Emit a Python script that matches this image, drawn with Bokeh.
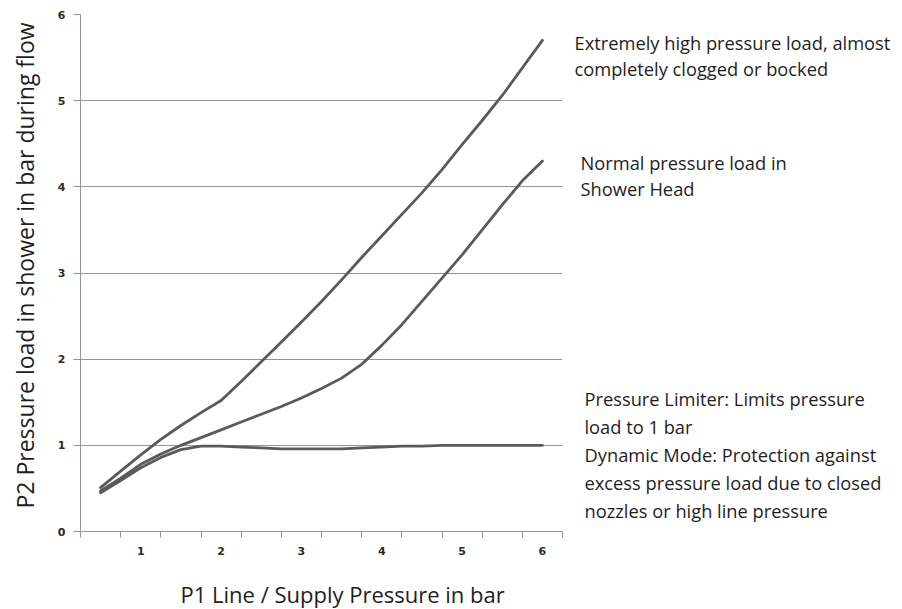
import math
from bokeh.plotting import figure
from bokeh.layouts import row, column
from bokeh.models import FixedTicker, Range1d, ColumnDataSource
from bokeh.core.properties import value
from bokeh.embed import file_html
from bokeh.resources import INLINE

# ---- data ----
supply_bar = [0.5, 0.75, 1.0, 1.25, 1.5, 1.75, 2.0, 2.25, 2.5, 2.75, 3.0, 3.25,
              3.5, 3.75, 4.0, 4.25, 4.5, 4.75, 5.0, 5.25, 5.5, 5.75, 6.0]
extreme_load = [0.51, 0.70, 0.89, 1.07, 1.23, 1.38, 1.52, 1.74, 1.97, 2.20, 2.43, 2.67,
                2.92, 3.18, 3.43, 3.68, 3.93, 4.20, 4.49, 4.77, 5.06, 5.38, 5.70]
normal_load = [0.47, 0.62, 0.78, 0.90, 1.00, 1.09, 1.18, 1.27, 1.36, 1.45, 1.55, 1.66,
               1.78, 1.94, 2.16, 2.40, 2.67, 2.94, 3.21, 3.50, 3.79, 4.07, 4.30]
limiter_load = [0.45, 0.59, 0.74, 0.86, 0.95, 0.99, 0.99, 0.98, 0.97, 0.96, 0.96, 0.96,
                0.96, 0.97, 0.98, 0.99, 0.99, 1.00, 1.00, 1.00, 1.00, 1.00, 1.00]

x_tick_values = [1, 2, 3, 4, 5, 6]
y_tick_values = [0, 1, 2, 3, 4, 5, 6]

x_title = "P1 Line / Supply Pressure in bar"
y_title = "P2 Pressure load in shower in bar during flow"

notes_extreme = ["Extremely high pressure load, almost", "completely clogged or bocked"]
notes_normal = ["Normal pressure load in", "Shower Head"]
notes_limiter = ["Pressure Limiter: Limits pressure", "load to 1 bar",
                 "Dynamic Mode: Protection against",
                 "excess pressure load due to closed",
                 "nozzles or high line pressure"]

GRID = "#939393"
LINE = "#5a5a5a"
TXT = "#1e1e1e"
FONT = "Open Sans"

# page geometry
W, H = 902, 609
LEFT_W = 48          # strip holding the y title
MAIN_W = 522         # main chart canvas (frame 80..562 on the page)
ROW_H = 575          # height of the top row
FRAME_TOP, FRAME_BOTTOM = 14, 531
BASE_SHIFT = 0.36    # renderer puts alphabetic baselines this many em lower

y_range = Range1d(0, 6)


def py_to_y(py):
    return (FRAME_BOTTOM - py) * 6.0 / (FRAME_BOTTOM - FRAME_TOP)


def blank(width, height, x_range, y_rng, top=0, bottom=0):
    f = figure(width=width, height=height, output_backend="svg", toolbar_location=None,
               x_range=x_range, y_range=y_rng, x_axis_location=None, y_axis_location=None,
               min_border_left=0, min_border_right=0, min_border_top=top,
               min_border_bottom=bottom)
    f.outline_line_color = None
    f.background_fill_color = "white"
    f.border_fill_color = "white"
    f.grid.visible = False
    return f


# ---- main chart ----
p = figure(width=MAIN_W, height=ROW_H, output_backend="svg", toolbar_location=None,
           x_range=Range1d(0.25, 6.25), y_range=y_range,
           min_border_left=80 - LEFT_W, min_border_right=LEFT_W + MAIN_W - 562,
           min_border_top=FRAME_TOP, min_border_bottom=ROW_H - FRAME_BOTTOM)
p.outline_line_color = None
p.background_fill_color = "white"
p.border_fill_color = "white"

p.xgrid.visible = False
p.ygrid.ticker = FixedTicker(ticks=y_tick_values)
p.ygrid.grid_line_color = GRID
p.ygrid.grid_line_width = 1

p.xaxis.ticker = FixedTicker(ticks=x_tick_values,
                             minor_ticks=[0.25 + 0.5 * i for i in range(13)])
p.xaxis.major_tick_line_color = None
p.xaxis.minor_tick_in = 0
p.xaxis.minor_tick_out = 6
p.xaxis.minor_tick_line_color = GRID
p.xaxis.axis_line_color = GRID
p.xaxis.major_label_standoff = 9
p.xaxis.major_label_text_font = "DejaVu Sans"
p.xaxis.major_label_text_font_style = "bold"
p.xaxis.major_label_text_font_size = "11px"
p.xaxis.major_label_text_color = "#2a2a2a"

p.yaxis.ticker = FixedTicker(ticks=y_tick_values)
p.yaxis.minor_tick_line_color = None
p.yaxis.major_tick_in = 0
p.yaxis.major_tick_out = 7
p.yaxis.major_tick_line_color = GRID
p.yaxis.axis_line_color = GRID
p.yaxis.major_label_standoff = 8
p.yaxis.major_label_text_font = "DejaVu Sans"
p.yaxis.major_label_text_font_style = "bold"
p.yaxis.major_label_text_font_size = "11px"
p.yaxis.major_label_text_color = "#2a2a2a"

for series in (limiter_load, normal_load, extreme_load):
    p.line(supply_bar, series, line_width=2.8, line_color=LINE,
           line_join="round", line_cap="round")

# ---- y title strip (x in page pixels, y shares the chart's scale) ----
pl = blank(LEFT_W, ROW_H, Range1d(0, LEFT_W), y_range, FRAME_TOP, ROW_H - FRAME_BOTTOM)
YT_SIZE = 23
pl.text(x=[33 - BASE_SHIFT * YT_SIZE], y=[py_to_y(508)], text=[y_title],
        angle=math.pi / 2, text_font=value(FONT), text_font_size=f"{YT_SIZE}px",
        text_color=TXT, text_align="left", text_baseline="alphabetic")

# ---- annotation strip on the right ----
RIGHT_X0 = LEFT_W + MAIN_W
pr = blank(W - RIGHT_X0, ROW_H, Range1d(RIGHT_X0, W), y_range, FRAME_TOP,
           ROW_H - FRAME_BOTTOM)
NOTE_SIZE = 18.3
note_x, note_y, note_t = [], [], []
for lines, px, base, step in ((notes_extreme, 574, 48.5, 26.5),
                              (notes_normal, 580, 168.5, 26.0),
                              (notes_limiter, 584, 405.0, 27.8)):
    for i, t in enumerate(lines):
        note_x.append(px)
        note_y.append(py_to_y(base + i * step - BASE_SHIFT * NOTE_SIZE))
        note_t.append(t)
pr.text(x="x", y="y", text="t", source=ColumnDataSource(dict(x=note_x, y=note_y, t=note_t)),
        text_font=value(FONT), text_font_size=f"{NOTE_SIZE}px", text_color=TXT,
        text_align="left", text_baseline="alphabetic")

# ---- x title strip at the bottom ----
XT_SIZE = 22
pb = blank(W, H - ROW_H, Range1d(0, W), Range1d(0, H - ROW_H))
pb.text(x=[180], y=[H - 601.7 + BASE_SHIFT * XT_SIZE], text=[x_title],
        text_font=value(FONT), text_font_size=f"{XT_SIZE}px", text_color=TXT,
        text_align="left", text_baseline="alphabetic")

layout = column(row(pl, p, pr), pb)
open("out.html", "w").write(file_html(layout, INLINE))
